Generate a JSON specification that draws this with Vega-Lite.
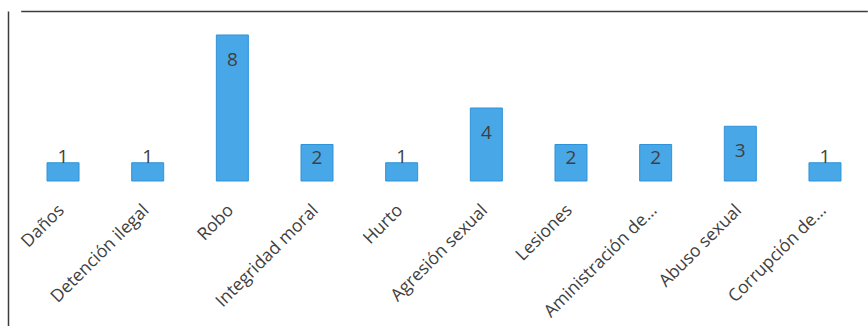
{
  "$schema": "https://vega.github.io/schema/vega-lite/v6.json",
  "width": 860,
  "height": 315,
  "autosize": {"type": "none"},
  "padding": {"left": 8, "top": 11, "right": 0, "bottom": 0},
  "background": "white",
  "config": {"view": {"stroke": null}},
  "data": {
    "values": [
      {"delito": "Daños", "casos": 1},
      {"delito": "Detención ilegal", "casos": 1},
      {"delito": "Robo", "casos": 8},
      {"delito": "Integridad moral", "casos": 2},
      {"delito": "Hurto", "casos": 1},
      {"delito": "Agresión sexual", "casos": 4},
      {"delito": "Lesiones", "casos": 2},
      {"delito": "Aministración de…", "casos": 2},
      {"delito": "Abuso sexual", "casos": 3},
      {"delito": "Corrupción de…", "casos": 1}
    ]
  },
  "encoding": {
    "x": {
      "field": "delito",
      "type": "nominal",
      "sort": null,
      "scale": {"range": [12.7, 859.3], "paddingInner": 0.622, "paddingOuter": 0.311},
      "axis": {"orient": "top", "labels": false, "ticks": false, "title": null, "domainColor": "#3c3c3c", "domainWidth": 1.5}
    }
  },
  "layer": [
    {
      "mark": {"type": "bar", "color": "#48a7e6", "stroke": "#2f93da", "strokeWidth": 1},
      "encoding": {
        "y": {
          "field": "casos",
          "type": "quantitative",
          "scale": {"domain": [-7.945, 9.315], "nice": false, "zero": false},
          "axis": {"labels": false, "ticks": false, "grid": false, "title": null, "domainColor": "#3c3c3c", "domainWidth": 1.5}
        }
      }
    },
    {
      "mark": {"type": "rule", "color": "#a6a6a6", "strokeWidth": 3},
      "encoding": {"y": {"datum": 0, "type": "quantitative"}}
    },
    {
      "transform": [{"filter": "datum.casos >= 3"}],
      "mark": {"type": "text", "font": "Open Sans", "fontSize": 19, "color": "#404040", "baseline": "middle", "dy": 25},
      "encoding": {"y": {"field": "casos", "type": "quantitative"}, "text": {"field": "casos"}}
    },
    {
      "transform": [{"filter": "datum.casos == 2"}],
      "mark": {"type": "text", "font": "Open Sans", "fontSize": 19, "color": "#404040", "baseline": "middle", "dy": 13},
      "encoding": {"y": {"field": "casos", "type": "quantitative"}, "text": {"field": "casos"}}
    },
    {
      "transform": [{"filter": "datum.casos == 1"}],
      "mark": {"type": "text", "font": "Open Sans", "fontSize": 19, "color": "#404040", "baseline": "middle", "dy": -6},
      "encoding": {"y": {"field": "casos", "type": "quantitative"}, "text": {"field": "casos"}}
    },
    {
      "mark": {"type": "text", "font": "Open Sans", "fontSize": 17.5, "color": "#404040", "align": "right", "baseline": "middle", "angle": 315, "dx": -20, "dy": 18},
      "encoding": {"y": {"datum": 0, "type": "quantitative"}, "text": {"field": "delito"}}
    }
  ]
}
